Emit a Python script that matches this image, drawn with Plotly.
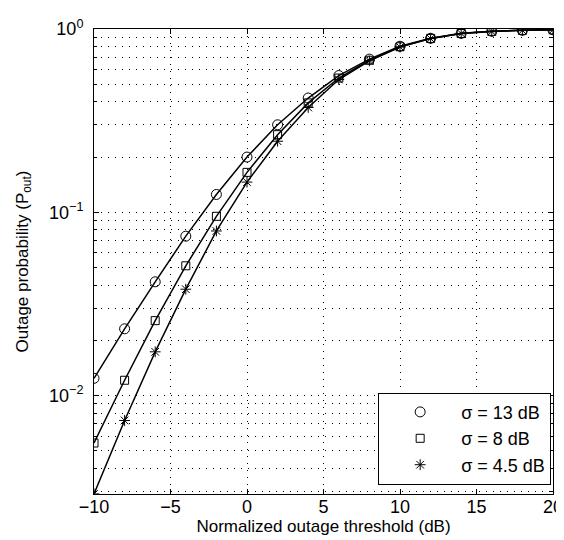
import plotly.graph_objects as go

x_db = [-10, -8, -6, -4, -2, 0, 2, 4, 6, 8, 10, 12, 14, 16, 18, 20]
p_13 = [0.0124, 0.0231, 0.0417, 0.074, 0.125, 0.200, 0.300, 0.420, 0.557, 0.685, 0.805, 0.890, 0.947, 0.972, 0.984, 0.990]
p_8 = [0.0055, 0.0121, 0.0256, 0.051, 0.095, 0.165, 0.265, 0.395, 0.540, 0.675, 0.800, 0.888, 0.945, 0.971, 0.983, 0.990]
p_45 = [0.0029, 0.0073, 0.0173, 0.038, 0.079, 0.146, 0.244, 0.373, 0.530, 0.670, 0.797, 0.886, 0.944, 0.970, 0.983, 0.990]

series = [
    ("σ = 13 dB", p_13, "circle-open", 10),
    ("σ = 8 dB", p_8, "square-open", 8),
    ("σ = 4.5 dB", p_45, "asterisk-open", 9),
]

x_ticks = [-10, -5, 0, 5, 10, 15, 20]
x_ticktext = ["\u221210", "\u22125", "0", "5", "10", "15", "20"]
y_ticks = [0.01, 0.1, 1]
y_ticktext = ["10<sup>\u22122</sup>", "10<sup>\u22121</sup>", "10<sup>0</sup>"]

fig = go.Figure()
for name, vals, sym, sz in series:
    fig.add_trace(go.Scatter(x=x_db, y=vals, mode="lines", line=dict(color="black", width=1.5),
                             showlegend=False, hoverinfo="skip"))
for name, vals, sym, sz in series:
    fig.add_trace(go.Scatter(x=x_db, y=vals, mode="markers", name=name,
                             marker=dict(symbol=sym, size=sz, color="black", line=dict(width=1, color="black"))))

font = "Liberation Sans, Arial, Helvetica, sans-serif"
dot = "1px,6px"
fig.update_layout(
    width=564, height=540,
    margin=dict(l=86, r=9, t=20, b=54),
    paper_bgcolor="white", plot_bgcolor="white",
    font=dict(family=font, size=18, color="black"),
    legend=dict(x=0.996, xanchor="right", y=0.02, yanchor="bottom",
                bordercolor="black", borderwidth=1, bgcolor="white",
                font=dict(size=18), itemwidth=72),
)
fig.update_xaxes(
    range=[-10, 20], tickvals=x_ticks, ticktext=x_ticktext, ticklabeloverflow="allow",
    ticklabelstandoff=-4,
    showline=True, linecolor="black", linewidth=1, mirror="ticks",
    ticks="inside", ticklen=5, tickcolor="black",
    showgrid=True, gridcolor="black", griddash=dot, gridwidth=1,
    zeroline=False,
    title=dict(text="Normalized outage threshold (dB)", font=dict(size=17), standoff=4),
)
fig.update_yaxes(
    type="log", range=[-2.538, 0], tickvals=y_ticks, ticktext=y_ticktext,
    ticklabelstandoff=6,
    showline=True, linecolor="black", linewidth=1, mirror="ticks",
    ticks="inside", ticklen=5, tickcolor="black",
    showgrid=True, gridcolor="black", griddash=dot, gridwidth=1,
    minor=dict(dtick="D1", ticks="inside", ticklen=3, tickcolor="black", showgrid=True,
               gridcolor="black", griddash=dot, gridwidth=1),
    zeroline=False,
    title=dict(text="Outage probability (P<sub>out</sub>)", font=dict(size=17), standoff=16),
)

fig.write_html("out.html")
